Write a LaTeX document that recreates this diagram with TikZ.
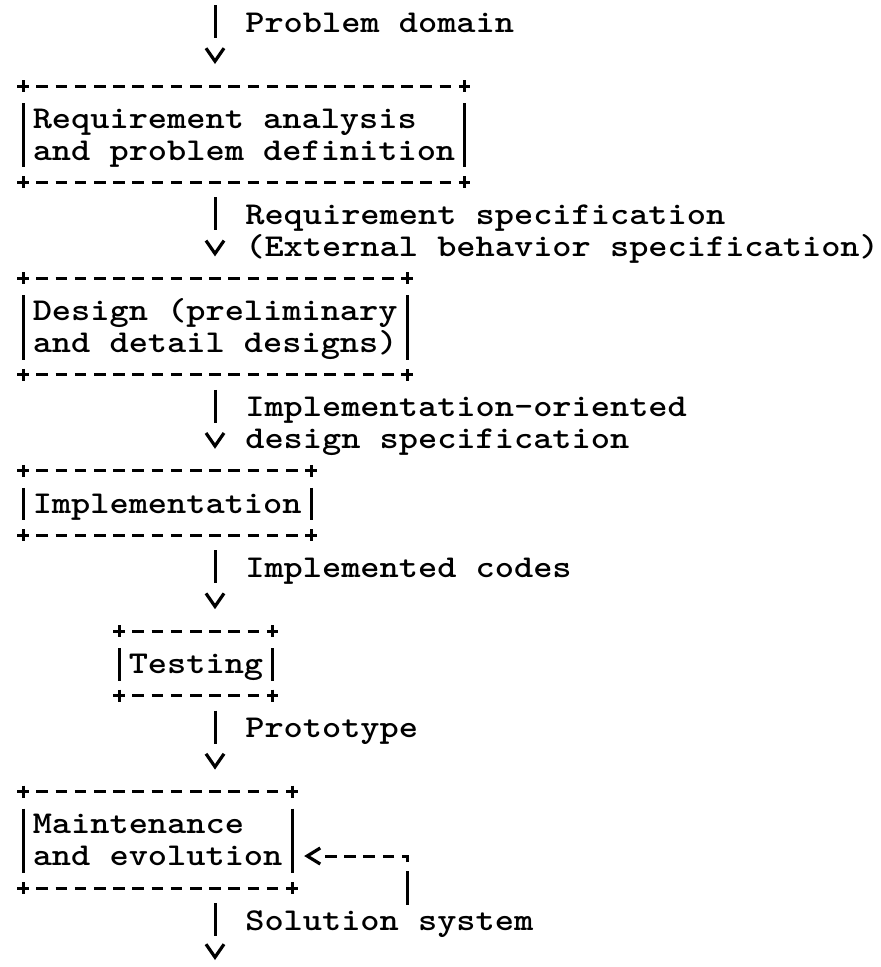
\documentclass[tikz,border=0pt]{standalone}
\usepackage{fontspec}
\newfontfamily\asciifont{lmmonolt10-regular.otf}[BoldFont=lmmonolt10-bold.otf, FakeStretch=1.15]
\usepackage{tikz}
\usetikzlibrary{arrows.meta,positioning}
\tikzstyle{stage} = [draw=none, inner xsep=9.6pt, inner ysep=16pt, align=left, text height=26pt, text depth=6pt]
\tikzstyle{stagetwo} = [stage, text height=58pt]
\tikzstyle{lbl} = [anchor=base west, inner sep=0pt, align=left, xshift=28.8pt]
\tikzstyle{lbltwo} = [lbl, yshift=-32pt]
\tikzstyle{hrule} = [line width=3pt, dash pattern=on 11.5pt off 7.7pt]
\tikzstyle{vrule} = [line width=3pt]
\tikzstyle{tedge}  = [draw, line width=3pt, dash pattern=on 33pt off 80pt, shorten <=15pt, shorten >=22pt, -{Straight Barb[length=13pt,width=18pt,line width=3.2pt]}]
\tikzstyle{fbedge} = [draw, line width=3pt, shorten >=12pt, dash pattern=on 33.7pt off 9pt on 11.5pt off 7.7pt on 11.5pt off 7.7pt on 11.5pt off 7.7pt on 11.5pt off 7.7pt on 11.5pt off 60pt, -{Straight Barb[length=13pt,width=16pt,line width=3.2pt]}]
\newcommand{\asciibox}[1]{%
  \draw[hrule] ([xshift=-5.75pt]#1.north west) -- ([xshift=5.75pt]#1.north east);
  \draw[hrule] ([xshift=-5.75pt]#1.south west) -- ([xshift=5.75pt]#1.south east);
  \draw[vrule] ([yshift=-17pt]#1.north west) -- ([yshift=15pt]#1.south west);
  \draw[vrule] ([yshift=-17pt]#1.north east) -- ([yshift=15pt]#1.south east);
  \foreach \c in {north west,north east,south west,south east}
    \draw[vrule] ([yshift=6pt]#1.\c) -- ([yshift=-6pt]#1.\c);
}
\begin{document}
\begin{tikzpicture}[font=\asciifont\bfseries\fontsize{31.8pt}{32pt}\selectfont]
\useasboundingbox (0,0) rectangle (881pt,-967pt);

% stages =============================

% nodes
\coordinate (src) at (215pt,-5pt);
\node[stagetwo, anchor=north west] (req) at (23pt,-86pt) {Requirement analysis\\and problem definition};
\node[stagetwo, below right=96pt and 0pt of req.south west] (design) {Design (preliminary\\and detail designs)};
\node[stage, below right=96pt and 0pt of design.south west] (impl) {Implementation};
\node[stage, below right=96pt and 96pt of impl.south west] (test) {Testing};
\node[stagetwo, below right=96pt and -96pt of test.south west] (maint) {Maintenance\\and evolution};
\coordinate (sink) at (215pt,-960pt);
\coordinate (fb) at ([xshift=115.2pt, yshift=-16.7pt]maint.south east);

% borders
\foreach \b in {req,design,impl,test,maint} \asciibox{\b};

% edges
\path[tedge, shorten <=0pt] (src) -- node[lbl, at start, yshift=-27pt] {Problem domain} (src |- req.north);
\path[tedge] (req.south -| src) -- node[lbltwo, at start, yshift=-42pt] {Requirement specification\\(External behavior specification)} (design.north -| src);
\path[tedge] (design.south -| src) -- node[lbltwo, at start, yshift=-42pt] {Implementation-oriented\\design specification} (impl.north -| src);
\path[tedge] (impl.south -| src) -- node[lbl, at start, yshift=-42pt] {Implemented codes} (test.north -| src);
\path[tedge] (test.south -| src) -- node[lbl, at start, yshift=-42pt] {Prototype} (maint.north -| src);
\path[tedge, shorten >=0pt] (maint.south -| src) -- node[lbl, at start, yshift=-42pt] {Solution system} (sink);
\path[fbedge] (fb) |- ([yshift=32pt]maint.south east);

\end{tikzpicture}
\end{document}
